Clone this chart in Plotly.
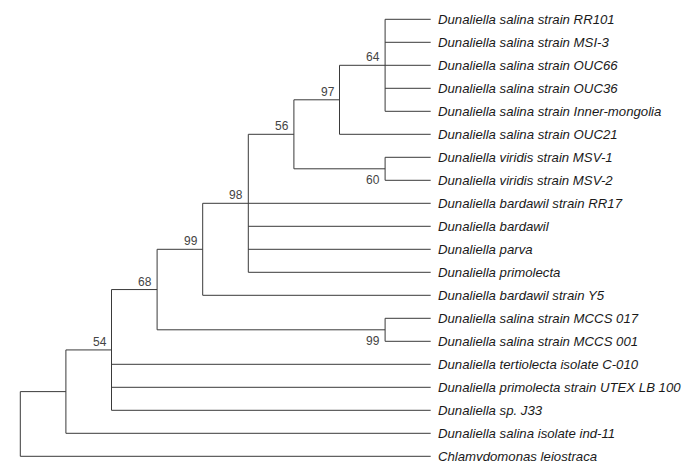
import plotly.graph_objects as go

# ---- data ----
tip_names = [
    "Dunaliella salina strain RR101",
    "Dunaliella salina strain MSI-3",
    "Dunaliella salina strain OUC66",
    "Dunaliella salina strain OUC36",
    "Dunaliella salina strain Inner-mongolia",
    "Dunaliella salina strain OUC21",
    "Dunaliella viridis strain MSV-1",
    "Dunaliella viridis strain MSV-2",
    "Dunaliella bardawil strain RR17",
    "Dunaliella bardawil",
    "Dunaliella parva",
    "Dunaliella primolecta",
    "Dunaliella bardawil strain Y5",
    "Dunaliella salina strain MCCS 017",
    "Dunaliella salina strain MCCS 001",
    "Dunaliella tertiolecta isolate C-010",
    "Dunaliella primolecta strain UTEX LB 100",
    "Dunaliella sp. J33",
    "Dunaliella salina isolate ind-11",
    "Chlamydomonas leiostraca",
]
tip_parent = ["n64", "n64", "n64", "n64", "n64", "n97", "nMSV", "nMSV",
              "n98", "n98", "n98", "n98", "n99", "nMCCS", "nMCCS",
              "n54", "n54", "n54", "nA", "root"]
tip_level = 9

node_ids = ["root", "nA", "n54", "n68", "n99", "n98", "n56", "n97", "n64", "nMSV", "nMCCS"]
node_parent = [None, "root", "nA", "n54", "n68", "n99", "n98", "n56", "n97", "n56", "n68"]
node_level = [0, 1, 2, 3, 4, 5, 6, 7, 8, 8, 8]
node_support = [None, None, 54, 68, 99, 98, 56, 97, 64, 60, 99]
support_below = [False, False, False, False, False, False, False, False, False, True, True]

# ---- layout of the tree ----
children = {n: [] for n in node_ids}
tip_y = {name: i for i, name in enumerate(tip_names)}
for name, p in zip(tip_names, tip_parent):
    children[p].append(("tip", name))
for n, p in zip(node_ids, node_parent):
    if p is not None:
        children[p].append(("node", n))

lvl = dict(zip(node_ids, node_level))
node_y = {}


def get_y(kind, key):
    if kind == "tip":
        return tip_y[key]
    if key in node_y:
        return node_y[key]
    ys = [get_y(k, c) for k, c in children[key]]
    node_y[key] = (min(ys) + max(ys)) / 2
    return node_y[key]


for n in node_ids:
    get_y("node", n)

xs, ys = [], []
for n in node_ids:
    cys = [get_y(k, c) for k, c in children[n]]
    xs += [lvl[n], lvl[n], None]
    ys += [min(cys), max(cys), None]
    for k, c in children[n]:
        cx = tip_level if k == "tip" else lvl[c]
        xs += [lvl[n], cx, None]
        ys += [get_y(k, c), get_y(k, c), None]

fig = go.Figure()
fig.add_trace(go.Scatter(x=xs, y=ys, mode="lines",
                         line=dict(color="#3a3a3a", width=1),
                         hoverinfo="skip", showlegend=False))

annotations = []
for name in tip_names:
    annotations.append(dict(
        x=tip_level, y=tip_y[name], text="<i>" + name + "</i>",
        xanchor="left", yanchor="middle", xshift=5, showarrow=False,
        font=dict(family="Liberation Sans, Arial", size=13.2, color="#1a1a1a")))

for n, s, below in zip(node_ids, node_support, support_below):
    if s is None:
        continue
    cys = [get_y(k, c) for k, c in children[n]]
    if below:
        yv, ysh = max(cys), 0
    else:
        yv, ysh = node_y[n], 8
    annotations.append(dict(
        x=lvl[n], y=yv, text=str(s), xanchor="right", yanchor="middle",
        xshift=-3, yshift=ysh, showarrow=False,
        font=dict(family="Liberation Sans, Arial", size=12, color="#444444")))

W, H = 686, 461
step = 45.6
x0 = 20.3
y0 = 19.3
fig.update_layout(
    width=W, height=H,
    margin=dict(l=0, r=0, t=0, b=0),
    paper_bgcolor="white", plot_bgcolor="white",
    xaxis=dict(range=[-x0 / step, (W - x0) / step], visible=False, fixedrange=True),
    yaxis=dict(range=[(H - y0) / 23.0, -y0 / 23.0], visible=False, fixedrange=True),
    annotations=annotations,
)

fig.write_html(
    "out.html",
    config={"displayModeBar": False, "staticPlot": True},
    post_script="document.body.style.margin='0';document.body.style.overflow='hidden';",
)
